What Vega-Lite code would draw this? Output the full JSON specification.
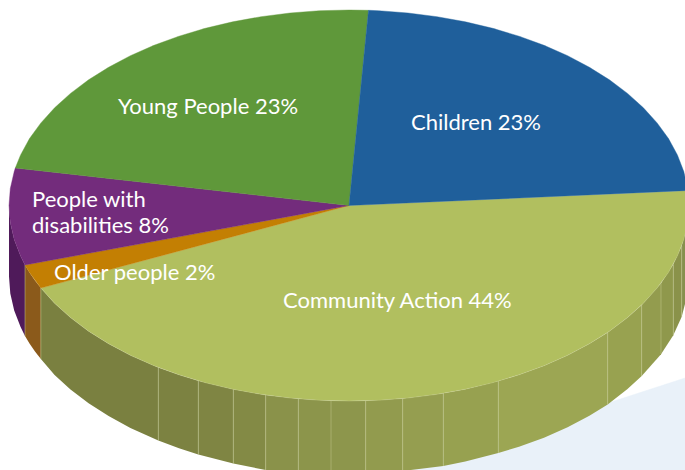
{"$schema":"https://vega.github.io/schema/vega-lite/v6.json","width":685,"height":470,"padding":0,"autosize":{"type":"none"},"background":"#ffffff","config":{"view":{"stroke":null}},
"datasets":{
"backdrop":[{"slice":"backdrop","i":1,"x":402,"y":470},{"slice":"backdrop","i":2,"x":685,"y":378},{"slice":"backdrop","i":3,"x":685,"y":470}],
"walls":[
{"s":"purple","x":9,"y":205.5,"y2":276.5},{"s":"purple","x":10.3,"y":222.5,"y2":293.5},{"s":"purple","x":14.2,"y":239.4,"y2":310.4},{"s":"purple","x":20.6,"y":256.1,"y2":327.1},{"s":"purple","x":25,"y":265,"y2":336},
{"s":"orange","x":25,"y":265,"y2":336},{"s":"orange","x":29.5,"y":272.4,"y2":343.4},{"s":"orange","x":35,"y":280.5,"y2":351.5},{"s":"orange","x":40.9,"y":288.1,"y2":359.1},
{"s":"a01","x":40.9,"y":288.1,"y2":359.1},{"s":"a01","x":54.6,"y":303.3,"y2":375},{"s":"a01","x":70.5,"y":317.6,"y2":389.6},{"s":"a01","x":88.6,"y":331.2,"y2":403.2},{"s":"a01","x":108.6,"y":343.7,"y2":416},{"s":"a01","x":130.4,"y":355.3,"y2":428},{"s":"a01","x":158.3,"y":367.4,"y2":440.4},
{"s":"a02","x":158.3,"y":367.4,"y2":440.4},{"s":"a02","x":179,"y":374.8,"y2":448.3},{"s":"a02","x":198.3,"y":380.7,"y2":454.5},
{"s":"a03","x":198.3,"y":380.7,"y2":454.5},{"s":"a03","x":233.3,"y":389.3,"y2":463.5},
{"s":"a04","x":233.3,"y":389.3,"y2":463.5},{"s":"a04","x":265.7,"y":395,"y2":470},
{"s":"a05","x":265.7,"y":395,"y2":470},{"s":"a05","x":298.3,"y":398.8,"y2":473},
{"s":"a06","x":298.3,"y":398.8,"y2":473},{"s":"a06","x":331,"y":400.7,"y2":475},
{"s":"a07","x":331,"y":400.7,"y2":475},{"s":"a07","x":349,"y":401,"y2":475},{"s":"a07","x":365.7,"y":400.8,"y2":475},
{"s":"a08","x":365.7,"y":400.8,"y2":475},{"s":"a08","x":402.7,"y":398.6,"y2":471},
{"s":"a09","x":402.7,"y":398.6,"y2":471},{"s":"a09","x":443.3,"y":393.3,"y2":466},
{"s":"a10","x":443.3,"y":393.3,"y2":466},{"s":"a10","x":465.3,"y":389.2,"y2":461.4},{"s":"a10","x":498.3,"y":381.1,"y2":453},
{"s":"a11","x":498.3,"y":381.1,"y2":453},{"s":"a11","x":519,"y":374.8,"y2":446.8},{"s":"a11","x":544,"y":365.7,"y2":437.7},{"s":"a11","x":567.6,"y":355.3,"y2":427.3},{"s":"a11","x":589.4,"y":343.7,"y2":415.7},{"s":"a11","x":607.7,"y":332.4,"y2":404.4},
{"s":"a12","x":607.7,"y":332.4,"y2":404.4},{"s":"a12","x":627.5,"y":317.6,"y2":389},{"s":"a12","x":641.7,"y":305,"y2":376},
{"s":"a13","x":641.7,"y":305,"y2":376},{"s":"a13","x":661,"y":283.2,"y2":354.2},
{"s":"a14","x":661,"y":283.2,"y2":354.2},{"s":"a14","x":673.3,"y":264.2,"y2":335.2},
{"s":"a15","x":673.3,"y":264.2,"y2":335.2},{"s":"a15","x":681.7,"y":245.8,"y2":316.8},
{"s":"a16","x":681.7,"y":245.8,"y2":316.8},{"s":"a16","x":687.7,"y":222.5,"y2":293.5},{"s":"a16","x":689,"y":205.5,"y2":276.5}
],
"seams":[{"x":25,"y":265,"y2":336},{"x":40.9,"y":288.1,"y2":359.1},{"x":158.3,"y":367.4,"y2":440.4},{"x":198.3,"y":380.7,"y2":454.5},{"x":233.3,"y":389.3,"y2":463.5},{"x":265.7,"y":395,"y2":470},{"x":298.3,"y":398.8,"y2":473},{"x":331,"y":400.7,"y2":475},{"x":365.7,"y":400.8,"y2":475},{"x":402.7,"y":398.6,"y2":471},{"x":443.3,"y":393.3,"y2":466},{"x":498.3,"y":381.1,"y2":453},{"x":607.7,"y":332.4,"y2":404.4},{"x":641.7,"y":305,"y2":376},{"x":661,"y":283.2,"y2":354.2},{"x":673.3,"y":264.2,"y2":335.2},{"x":681.7,"y":245.8,"y2":316.8}],
"top":[
{"slice":"Community Action","i":0,"x":349,"y":205.5},{"slice":"Community Action","i":1,"x":688,"y":190.5},{"slice":"Community Action","i":2,"x":689,"y":205.5},{"slice":"Community Action","i":3,"x":687.7,"y":222.5},{"slice":"Community Action","i":4,"x":683.8,"y":239.4},{"slice":"Community Action","i":5,"x":677.4,"y":256.1},{"slice":"Community Action","i":6,"x":668.5,"y":272.4},{"slice":"Community Action","i":7,"x":657.1,"y":288.1},{"slice":"Community Action","i":8,"x":643.4,"y":303.3},{"slice":"Community Action","i":9,"x":627.5,"y":317.6},{"slice":"Community Action","i":10,"x":609.4,"y":331.2},{"slice":"Community Action","i":11,"x":589.4,"y":343.7},{"slice":"Community Action","i":12,"x":567.6,"y":355.3},{"slice":"Community Action","i":13,"x":544,"y":365.7},{"slice":"Community Action","i":14,"x":519,"y":374.8},{"slice":"Community Action","i":15,"x":492.7,"y":382.7},{"slice":"Community Action","i":16,"x":465.3,"y":389.2},{"slice":"Community Action","i":17,"x":437,"y":394.3},{"slice":"Community Action","i":18,"x":408,"y":398},{"slice":"Community Action","i":19,"x":378.6,"y":400.3},{"slice":"Community Action","i":20,"x":349,"y":401},{"slice":"Community Action","i":21,"x":319.4,"y":400.3},{"slice":"Community Action","i":22,"x":290,"y":398},{"slice":"Community Action","i":23,"x":261,"y":394.3},{"slice":"Community Action","i":24,"x":232.7,"y":389.2},{"slice":"Community Action","i":25,"x":205.3,"y":382.7},{"slice":"Community Action","i":26,"x":179,"y":374.8},{"slice":"Community Action","i":27,"x":154,"y":365.7},{"slice":"Community Action","i":28,"x":130.4,"y":355.3},{"slice":"Community Action","i":29,"x":108.6,"y":343.7},{"slice":"Community Action","i":30,"x":88.6,"y":331.2},{"slice":"Community Action","i":31,"x":70.5,"y":317.6},{"slice":"Community Action","i":32,"x":54.6,"y":303.3},{"slice":"Community Action","i":33,"x":40.9,"y":288.1},
{"slice":"Older people","i":0,"x":349,"y":205.5},{"slice":"Older people","i":1,"x":40.9,"y":288.1},{"slice":"Older people","i":2,"x":29.5,"y":272.4},{"slice":"Older people","i":3,"x":25,"y":265},
{"slice":"People with disabilities","i":0,"x":349,"y":205.5},{"slice":"People with disabilities","i":1,"x":25,"y":265},{"slice":"People with disabilities","i":2,"x":20.6,"y":256.1},{"slice":"People with disabilities","i":3,"x":14.2,"y":239.4},{"slice":"People with disabilities","i":4,"x":10.3,"y":222.5},{"slice":"People with disabilities","i":5,"x":9,"y":205.5},{"slice":"People with disabilities","i":6,"x":10.3,"y":188.5},{"slice":"People with disabilities","i":7,"x":14.2,"y":171.6},{"slice":"People with disabilities","i":8,"x":15.3,"y":168},
{"slice":"Young People","i":0,"x":349,"y":205.5},{"slice":"Young People","i":1,"x":15.3,"y":168},{"slice":"Young People","i":2,"x":20.6,"y":154.9},{"slice":"Young People","i":3,"x":29.5,"y":138.6},{"slice":"Young People","i":4,"x":40.9,"y":122.9},{"slice":"Young People","i":5,"x":54.6,"y":107.8},{"slice":"Young People","i":6,"x":70.5,"y":93.4},{"slice":"Young People","i":7,"x":88.6,"y":79.8},{"slice":"Young People","i":8,"x":108.6,"y":67.3},{"slice":"Young People","i":9,"x":130.4,"y":55.7},{"slice":"Young People","i":10,"x":154,"y":45.3},{"slice":"Young People","i":11,"x":179,"y":36.2},{"slice":"Young People","i":12,"x":205.3,"y":28.3},{"slice":"Young People","i":13,"x":232.7,"y":21.8},{"slice":"Young People","i":14,"x":261,"y":16.7},{"slice":"Young People","i":15,"x":290,"y":13},{"slice":"Young People","i":16,"x":319.4,"y":10.7},{"slice":"Young People","i":17,"x":349,"y":10},{"slice":"Young People","i":18,"x":368.5,"y":10.3},
{"slice":"Children","i":0,"x":349,"y":205.5},{"slice":"Children","i":1,"x":368.5,"y":10.3},{"slice":"Children","i":2,"x":378.6,"y":10.7},{"slice":"Children","i":3,"x":408,"y":13},{"slice":"Children","i":4,"x":437,"y":16.7},{"slice":"Children","i":5,"x":465.3,"y":21.8},{"slice":"Children","i":6,"x":492.7,"y":28.3},{"slice":"Children","i":7,"x":519,"y":36.2},{"slice":"Children","i":8,"x":544,"y":45.3},{"slice":"Children","i":9,"x":567.6,"y":55.7},{"slice":"Children","i":10,"x":589.4,"y":67.3},{"slice":"Children","i":11,"x":609.4,"y":79.8},{"slice":"Children","i":12,"x":627.5,"y":93.4},{"slice":"Children","i":13,"x":643.4,"y":107.8},{"slice":"Children","i":14,"x":657.1,"y":122.9},{"slice":"Children","i":15,"x":668.5,"y":138.6},{"slice":"Children","i":16,"x":677.4,"y":154.9},{"slice":"Children","i":17,"x":683.8,"y":171.6},{"slice":"Children","i":18,"x":687.7,"y":188.5},{"slice":"Children","i":19,"x":688,"y":190.5}
],
"labels":[{"t":"Young People 23%","x":118,"y":107},{"t":"Children 23%","x":411,"y":123},{"t":"People with","x":32,"y":200},{"t":"disabilities 8%","x":32,"y":226},{"t":"Older people 2%","x":54,"y":273},{"t":"Community Action 44%","x":283,"y":301}]
},
"encoding":{"x":{"field":"x","type":"quantitative","axis":null,"scale":{"domain":[0,685],"nice":false,"zero":false}},"y":{"field":"y","type":"quantitative","axis":null,"scale":{"domain":[470,0],"nice":false,"zero":false}}},
"layer":[
{"data":{"name":"backdrop"},"mark":{"type":"line","interpolate":"linear-closed","fill":"#e9f1f9","stroke":"#e9f1f9","strokeWidth":0.5,"clip":true},"encoding":{"order":{"field":"i"}}},
{"data":{"name":"walls"},"mark":{"type":"area","clip":true},"encoding":{"y2":{"field":"y2"},"color":{"field":"s","type":"nominal","legend":null,"scale":{"domain":["purple","orange","a01","a02","a03","a04","a05","a06","a07","a08","a09","a10","a11","a12","a13","a14","a15","a16"],"range":["#4f1a5a","#8b5a1b","#7a8040","#7c8241","#7f8543","#838a45","#8a924a","#8c954b","#8d964c","#929b4e","#959e50","#97a150","#9ca653","#98a250","#939c4e","#8f984c","#8a924a","#86904e"]}}}},
{"data":{"name":"seams"},"mark":{"type":"rule","color":"#c3c98f","strokeWidth":0.7,"opacity":0.7,"clip":true},"encoding":{"y2":{"field":"y2"}}},
{"data":{"name":"top"},"mark":{"type":"line","interpolate":"linear-closed","strokeWidth":0.4,"clip":true},"encoding":{"order":{"field":"i"},"detail":{"field":"slice"},
"fill":{"field":"slice","type":"nominal","legend":null,"scale":{"domain":["Community Action","Older people","People with disabilities","Young People","Children"],"range":["#b1bf5f","#c37f03","#732c7c","#5f983a","#1f5f9b"]}},
"stroke":{"field":"slice","type":"nominal","legend":null,"scale":{"domain":["Community Action","Older people","People with disabilities","Young People","Children"],"range":["#c4cd8a","#c37f03","#732c7c","#5f983a","#1f5f9b"]}}}},
{"data":{"name":"labels"},"mark":{"type":"text","align":"left","baseline":"middle","font":"Lato","fontSize":22,"color":"#ffffff"},"encoding":{"text":{"field":"t"}}}
]}
